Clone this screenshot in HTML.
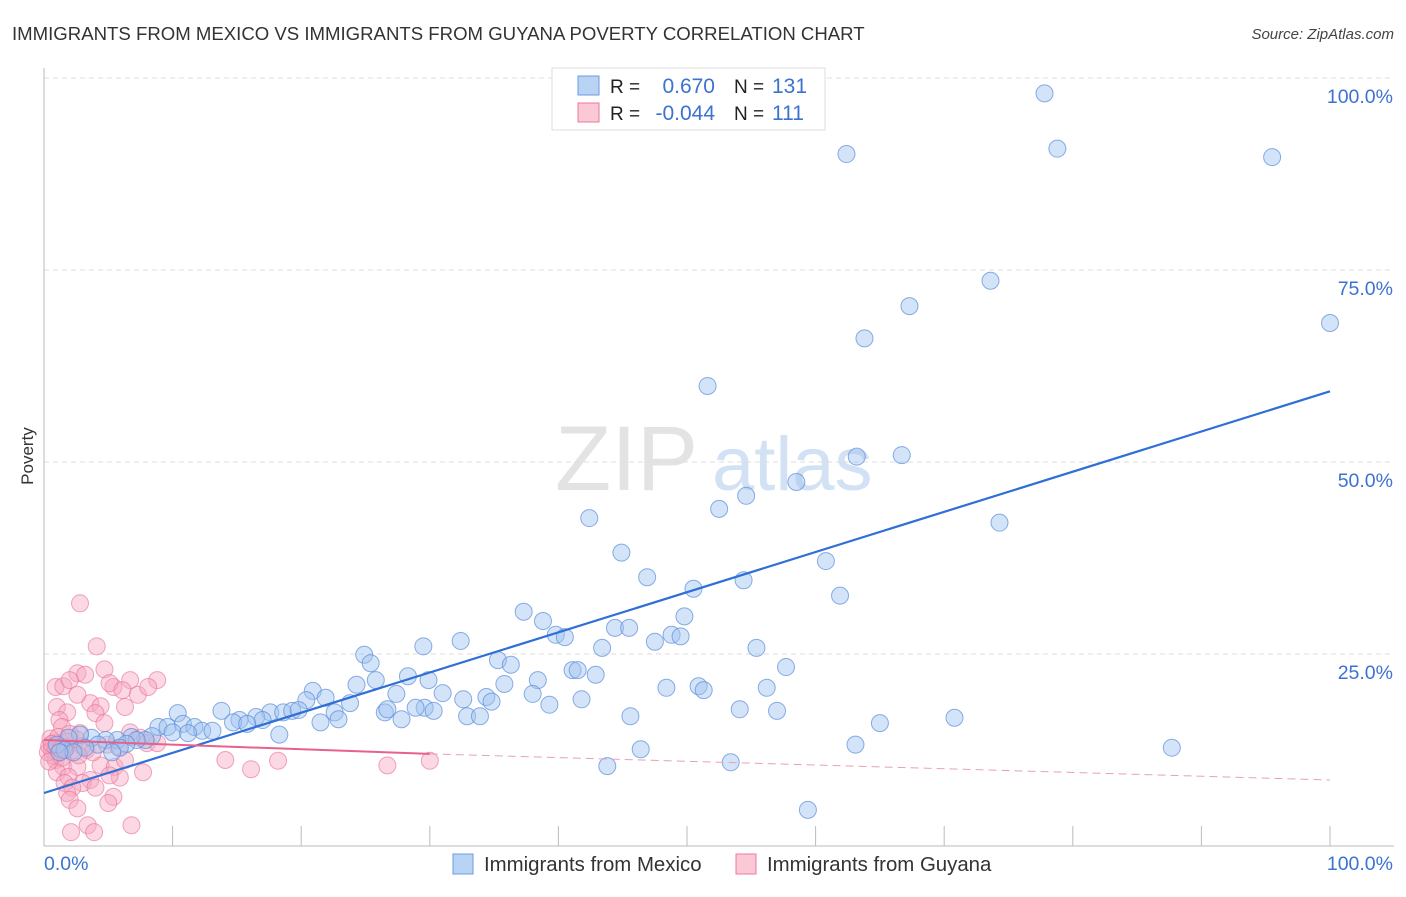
<!DOCTYPE html>
<html><head><meta charset="utf-8"><style>
body{margin:0;background:#fff;font-family:"Liberation Sans",sans-serif}
svg text{font-family:"Liberation Sans",sans-serif}
</style></head><body>
<svg width="1406" height="892" xmlns="http://www.w3.org/2000/svg">
<text x="12" y="40" font-size="18.6" fill="#333">IMMIGRANTS FROM MEXICO VS IMMIGRANTS FROM GUYANA POVERTY CORRELATION CHART</text>
<text x="1394" y="39" font-size="15" fill="#444" font-style="italic" text-anchor="end">Source: ZipAtlas.com</text>
<text x="33" y="456" font-size="17" fill="#333" text-anchor="middle" transform="rotate(-90 33 456)">Poverty</text>
<g><text x="555" y="490" font-size="92" fill="#ddd" font-family="Liberation Serif" opacity="0.8">ZIP</text><text x="712" y="490" font-size="76" fill="#c8daf2" opacity="0.8">atlas</text></g>
<g id="grid"></g>
<g id="axes"></g>
<g id="pts"></g>
<g id="lines"></g>
<g>
<rect x="552" y="68" width="273" height="62" fill="#fff" stroke="#ddd"/>
<rect x="578" y="76" width="21" height="19" fill="#b9d3f5" stroke="#6a9be0"/>
<rect x="578" y="103" width="21" height="19" fill="#fbc8d6" stroke="#e87a9c"/>
<text x="610" y="93" font-size="19" fill="#222">R =</text><text x="715" y="93" font-size="21" fill="#3c72d0" text-anchor="end">0.670</text>
<text x="734" y="93" font-size="19" fill="#222">N =</text><text x="772" y="93" font-size="21" fill="#3c72d0">131</text>
<text x="610" y="120" font-size="19" fill="#222">R =</text><text x="715" y="120" font-size="21" fill="#3c72d0" text-anchor="end">-0.044</text>
<text x="734" y="120" font-size="19" fill="#222">N =</text><text x="772" y="120" font-size="21" fill="#3c72d0">111</text>
</g>
<g>
<rect x="453" y="854" width="20" height="20" fill="#b9d3f5" stroke="#6a9be0"/>
<text x="484" y="871" font-size="20.4" fill="#333">Immigrants from Mexico</text>
<rect x="736" y="854" width="20" height="20" fill="#fbc8d6" stroke="#e87a9c"/>
<text x="767" y="871" font-size="20.4" fill="#333">Immigrants from Guyana</text>
</g>
</svg>
<script>
const yTicks=[25,50,75,100];
const yTickLabels=["25.0%","50.0%","75.0%","100.0%"];
const xTicks=[0,10,20,30,40,50,60,70,80,90,100];
const mexX=[77.8,62.4,78.8,95.5,73.6,67.3,100,63.8,51.6,63.2,66.7,58.5,54.6,52.5,42.4,74.3,44.9,60.8,46.9,54.4,50.5,61.9,37.3,49.8,38.8,39.8,40.5,44.4,45.5,48.8,49.5,47.5,32.4,43.4,29.5,55.4,24.9,25.4,35.3,36.3,57.7,41.1,41.5,42.9,28.3,29.9,38.4,25.8,24.3,35.8,48.4,50.9,51.3,56.2,20.9,27.4,31.0,38.0,34.4,41.8,21.9,32.6,34.8,23.8,20.4,39.3,29.6,28.9,30.3,13.8,17.6,18.6,19.3,19.8,22.6,26.5,26.7,27.8,32.9,33.9,54.1,57.0,45.6,70.8,65.0,10.4,16.5,15.2,14.7,17.0,15.8,21.5,22.9,8.9,9.6,10.8,11.7,12.3,13.1,10.0,11.2,8.4,7.9,6.8,7.2,5.7,4.8,3.7,2.8,1.9,18.3,63.1,46.4,87.7,6.4,4.2,3.2,1.0,1.6,2.3,5.9,53.4,43.8,59.4,1.2,5.3];
const mexY=[98.0,90.1,90.8,89.7,73.6,70.3,68.1,66.1,59.9,50.7,50.9,47.4,45.6,43.9,42.7,42.1,38.2,37.1,35.0,34.6,33.5,32.6,30.5,29.9,29.3,27.5,27.2,28.4,28.4,27.5,27.3,26.6,26.7,25.8,26.0,25.8,24.9,23.8,24.2,23.6,23.3,22.9,22.9,22.3,22.1,21.6,21.6,21.6,21.0,21.1,20.6,20.8,20.3,20.6,20.2,19.8,19.9,19.8,19.4,19.1,19.3,19.1,18.8,18.6,19.0,18.4,18.0,18.0,17.6,17.6,17.4,17.4,17.6,17.7,17.4,17.4,17.8,16.5,16.9,16.9,17.8,17.6,16.9,16.7,16.0,17.3,16.8,16.4,16.1,16.4,15.9,16.1,16.5,15.5,15.5,15.9,15.5,15.0,15.0,14.8,14.7,14.3,13.8,14.2,13.8,13.8,13.8,14.1,14.5,14.1,14.5,13.2,12.6,12.8,13.3,13.2,12.8,13.2,12.5,12.2,12.8,10.9,10.4,4.7,12.2,12.2];
const guyX=[2.8,4.1,4.7,2.6,3.2,6.7,8.8,0.9,1.5,2.0,5.4,5.1,6.1,7.3,8.1,3.6,2.6,4.4,6.3,1.0,1.8,4.0,1.2,4.7,1.4,6.7,2.8,7.5,8.0,1.8,3.3,4.9,5.8,8.8,0.9,1.5,2.6,4.4,5.5,6.3,7.7,1.0,1.9,5.9,3.6,1.6,3.0,5.1,2.2,4.0,1.8,5.4,5.0,2.0,2.6,2.1,3.4,3.9,6.8,14.1,16.1,18.2,26.7,30.0,0.4,0.6,0.8,1.0,1.2,0.5,1.5,0.7,1.1,0.3,1.8,2.2,0.9,1.4,2.5,3.0,0.6,1.3,2.0,0.4,3.8,2.7];
const guyY=[31.6,26.0,23.0,22.5,22.3,21.6,21.6,20.7,20.8,21.6,20.7,21.2,20.3,19.7,20.7,18.6,19.7,18.2,18.1,18.1,17.4,17.3,16.4,16.0,15.5,14.8,14.7,14.1,13.4,12.9,12.5,13.2,12.8,13.4,11.2,10.3,10.3,10.5,10.3,11.2,9.6,9.6,9.0,8.9,8.6,8.2,8.2,9.2,7.6,7.6,6.9,6.4,5.6,6.0,4.9,1.8,2.7,1.8,2.7,11.2,10.0,11.1,10.5,11.1,13.0,12.5,13.5,12.0,13.2,14.0,12.8,11.8,14.2,12.2,13.6,12.4,12.9,11.5,13.9,13.0,13.3,12.6,14.6,11.0,12.2,11.8];
const mexTrend=[6.9,59.2];
const guyTrend=[13.8,12.0,8.6];
const NS="http://www.w3.org/2000/svg";
const X=v=>44+v*12.86, Y=v=>846-v*7.68;
function mk(t,a,p){const e=document.createElementNS(NS,t);for(const k in a)e.setAttribute(k,a[k]);p.appendChild(e);return e;}
const grid=document.getElementById('grid'),axes=document.getElementById('axes'),pts=document.getElementById('pts'),lines=document.getElementById('lines');
yTicks.forEach((t,i)=>{const l=mk('line',{x1:44,x2:1394,y1:Y(t),y2:Y(t),stroke:'#ddd','stroke-dasharray':'5 4'},grid);


const tx=mk('text',{x:1393,y:Y(t)+25,'font-size':19.5,fill:'#3c72d0','text-anchor':'end'},axes);tx.textContent=yTickLabels[i];

});
mk('line',{x1:44,x2:44,y1:68,y2:846,stroke:'#bbb'},axes);
mk('line',{x1:44,x2:1394,y1:846,y2:846,stroke:'#bbb'},axes);
xTicks.forEach(t=>{if(t>0){const l=mk('line',{x1:X(t),x2:X(t),y1:826,y2:846,stroke:'#bbb'},axes);

}});
let a=mk('text',{x:44,y:870,'font-size':19.5,fill:'#3c72d0'},axes);a.textContent='0.0%';


a=mk('text',{x:1393,y:870,'font-size':19.5,fill:'#3c72d0','text-anchor':'end'},axes);a.textContent='100.0%';


guyX.forEach((v,i)=>{const c=mk('circle',{cx:X(v),cy:Y(guyY[i]),r:8.5,fill:'rgba(246,168,192,0.45)',stroke:'rgba(232,110,150,0.6)','stroke-width':1},pts);

});
mexX.forEach((v,i)=>{const c=mk('circle',{cx:X(v),cy:Y(mexY[i]),r:8.5,fill:'rgba(160,195,240,0.45)',stroke:'rgba(90,140,220,0.7)','stroke-width':1},pts);

});
let l=mk('line',{x1:X(0),y1:Y(mexTrend[0]),x2:X(100),y2:Y(mexTrend[1]),stroke:'#2f6fd6','stroke-width':2.2},lines);


l=mk('line',{x1:X(0),y1:Y(guyTrend[0]),x2:X(30),y2:Y(guyTrend[1]),stroke:'#e8608c','stroke-width':2},lines);


l=mk('line',{x1:X(30),y1:Y(guyTrend[1]),x2:X(100),y2:Y(guyTrend[2]),stroke:'#e8a0b8','stroke-width':1,'stroke-dasharray':'8 5'},lines);


</script>
</body></html>
